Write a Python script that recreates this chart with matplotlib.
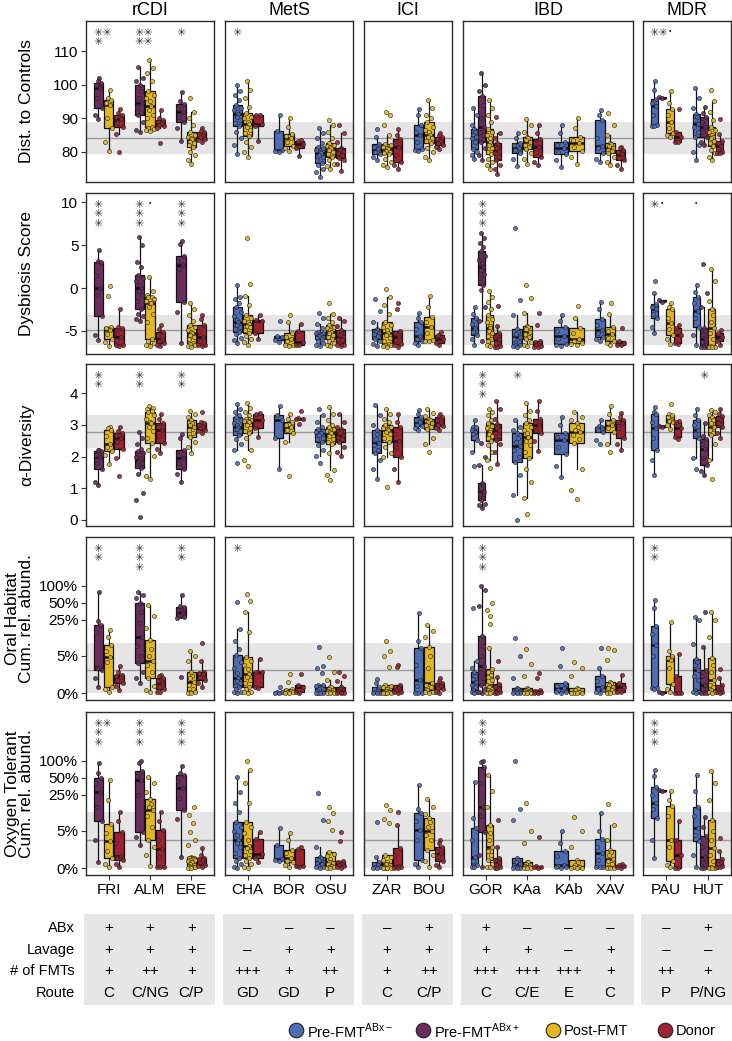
import numpy as np
import matplotlib.pyplot as plt
import matplotlib.transforms as mtransforms
from matplotlib.patches import Rectangle

plt.rcParams['font.family'] = ['Liberation Sans', 'DejaVu Sans']

W, H = 732, 1041

disease_groups = ["rCDI", "MetS", "ICI", "IBD", "MDR"]
disease_studies = [["FRI", "ALM", "ERE"], ["CHA", "BOR", "OSU"], ["ZAR", "BOU"],
                   ["GOR", "KAa", "KAb", "XAV"], ["PAU", "HUT"]]

group_labels = [r"Pre-FMT$^{\mathregular{ABx-}}$", r"Pre-FMT$^{\mathregular{ABx+}}$", "Post-FMT", "Donor"]
group_colors = ["#4F6DB5", "#6A2D5E", "#E3B81F", "#9E2232"]

# which sample groups each study has (0 pre ABx-, 1 pre ABx+, 2 post, 3 donor)
study_groups = {
    "FRI": [1, 2, 3], "ALM": [1, 2, 3], "ERE": [1, 2, 3],
    "CHA": [0, 2, 3], "BOR": [0, 2, 3], "OSU": [0, 2, 3],
    "ZAR": [0, 2, 3], "BOU": [0, 2, 3],
    "GOR": [0, 1, 2, 3], "KAa": [0, 2, 3], "KAb": [0, 2], "XAV": [0, 2, 3],
    "PAU": [0, 1, 2, 3], "HUT": [0, 1, 2, 3],
}

dist_controls = {
    "FRI": [[102, 101, 100.6, 99.8, 99, 96, 93.2, 91, 89.7],
            [98.5, 96, 95.5, 94.5, 93.9, 90, 87.1, 83, 80.2],
            [92.9, 91.5, 91.1, 90.5, 89.9, 88.5, 87.4, 85.4, 80]],
    "ALM": [[105.4, 102, 101, 99.8, 98, 96, 94.6, 93.5, 92, 91.1, 89, 86.5, 86],
            [107.4, 105, 103.5, 101, 98.1, 97, 96, 95, 93.6, 92.5, 91, 90, 87.5, 87, 86.8, 86.5, 86.1],
            [92.4, 90, 89.6, 89, 88.6, 88, 87.6, 87.2, 82.7]],
    "ERE": [[97.8, 95, 94.2, 93, 91.9, 90.5, 88.9, 87, 83.3],
            [96, 92, 90, 88, 85.9, 85, 84.5, 84, 83.7, 83, 82.5, 82, 81.5, 80, 79, 77.5, 76.5],
            [87, 86.3, 85.9, 85.3, 84.9, 84.3, 83.7, 83.4, 83]],
    "CHA": [[100, 98, 97, 95.5, 94.1, 93, 92.5, 92, 91.4, 90.5, 89.5, 88.5, 87.6, 86, 84, 82, 79.3],
            [101, 98.5, 96, 93.5, 91.6, 90.5, 90, 89, 88.4, 87.5, 86.5, 85.5, 84.7, 83, 81.5, 80, 78.5],
            [91, 90.9, 88.4, 87.6, 83.3]],
    "BOR": [[90.9, 86.1, 80.5, 80.2, 80],
            [90.2, 87.5, 85.4, 84.6, 84, 83, 81.7, 81, 80.2],
            [83.5, 83.2, 82.3, 81.2, 78.7]],
    "OSU": [[87, 85.5, 84, 82.5, 81.5, 81, 80.5, 80, 79.5, 79, 78.5, 77.5, 76.8, 76, 75, 74, 72.6],
            [89.4, 88, 86, 84, 82.5, 82, 81.7, 81.3, 81, 80.5, 80, 79.3, 78.5, 77.5, 76.5, 75.8, 75],
            [87.9, 85.5, 83, 81.2, 80.8, 80.4, 80, 79.6, 79, 78.3, 77.5, 76.3, 74.4]],
    "ZAR": [[86.9, 84.5, 82.3, 81.5, 80.8, 80, 79.3, 78.5, 77.7],
            [92, 91, 88, 85, 82.3, 82, 81.5, 81.2, 80.8, 80.3, 80, 79.6, 79.3, 78, 77, 76, 75.5],
            [86.9, 85, 83.7, 82.5, 81.5, 79, 77, 76, 75]],
    "BOU": [[92.9, 91, 88.1, 86, 85.1, 83, 80.8, 80.5, 80.2],
            [95.3, 93, 91, 90, 88.8, 87.5, 86.5, 85.8, 85, 84.5, 84, 83.3, 82.5, 81, 80, 78.5, 77.7],
            [85.6, 85, 84.5, 83.8, 83.2, 82.6, 82, 81.5, 80.7]],
    "GOR": [[93.2, 91, 88, 86.9, 86, 85, 84.5, 84, 83, 80.7, 80, 79, 78],
            [103.5, 100, 98, 96.5, 94, 90, 87.4, 86, 85, 83, 81, 79, 77.5],
            [95.3, 93, 91, 89, 86.9, 86, 85, 84, 83, 82, 81, 80, 79.3, 78, 77, 76, 74.8],
            [90.4, 85.6, 84, 82.7, 82, 81, 80.3, 79.5, 78.5, 77.7, 76, 75, 73.4]],
    "KAa": [[85.6, 84, 82.7, 82, 81.2, 80.5, 79.7, 78, 75.7],
            [89.9, 88, 86, 84.5, 84, 83.5, 83, 82, 81.5, 80.7, 79.5, 78, 76.5],
            [87.9, 85.5, 83.7, 82.5, 81.5, 80, 78.5, 77, 76]],
    "KAb": [[87.9, 85.5, 83, 82, 81, 80, 79.3, 77.5, 75.5],
            [90.2, 87, 84.5, 83.5, 82.5, 81.5, 80.3, 78.5, 76.3]],
    "XAV": [[92.4, 91, 89.4, 84, 81.7, 81, 79.5, 78, 77],
            [91.6, 88, 85, 82.7, 82.2, 81.6, 81, 80.6, 80.2, 79.7, 78.5, 77, 76],
            [81.5, 81, 80.5, 79.8, 79.3, 78.3, 77.5, 76, 75]],
    "PAU": [[101, 98.5, 95.8, 94.5, 93.6, 91, 87.9, 87.8, 87.6],
            [96.3, 96.0],
            [98.1, 94.5, 92.9, 91, 88.9, 87, 85.6, 85, 84.3],
            [92.9, 85.9, 84.5, 83, 82.8]],
    "HUT": [[99.1, 96, 93, 91.4, 90.5, 89.5, 88.4, 87.5, 86, 84.5, 82, 80, 77.7],
            [93.4, 91.5, 90.4, 89, 87.4, 86, 84.5, 83, 82],
            [98.5, 95, 92, 89.5, 87.4, 86.5, 85.8, 85, 84.5, 84, 83.3, 82.5, 81.7, 80.5, 79.5, 78.5, 77.5],
            [89.9, 85.4, 83.3, 82.5, 81.7, 80.8, 80, 79.7, 79.5]],
}

dysbiosis = {
    "FRI": [[4.5, 3.2, 3.1, 1.5, 0, -0.8, -3.3, -5.5, -6.1],
            [0.2, -0.9, -4.5, -4.7, -4.9, -5.4, -5.9, -6.3, -6.8],
            [-2.4, -4.5, -4.7, -5.2, -5.7, -6.1, -6.6, -6.7, -6.8]],
    "ALM": [[6, 5, 3, 2.5, 1.5, 1.2, 0.8, 0.4, 0, -0.4, -0.8, -1.5, -2.5, -3, -3.3, -3.6, -3.8],
            [1.3, -0.3, -0.8, -1.0, -1.1, -1.3, -1.5, -1.7, -1.8, -2.2, -3, -4, -5.9, -6.2, -6.4, -6.6, -6.8],
            [-4.3, -4.8, -5.1, -5.5, -5.9, -6.2, -6.4, -6.6, -6.8]],
    "ERE": [[5.5, 5.2, 3.7, 3.2, 2.7, 2.2, -1.6, -2.8, -6.4],
            [-1.8, -2.5, -3.2, -3.8, -4.3, -4.6, -4.9, -5.1, -5.3, -5.5, -5.7, -6, -6.4, -6.5, -6.7, -6.8, -6.9],
            [-3.2, -3.6, -4.3, -5, -5.7, -6.2, -6.6, -6.7, -6.8]],
    "CHA": [[0.3, -1, -1.3, -1.8, -2.2, -2.8, -3.3, -3.7, -4, -4.3, -4.5, -4.8, -5.1, -5.4, -5.8, -6.1, -6.4],
            [5.9, 0.5, -0.9, -2, -3.1, -3.5, -3.8, -4, -4.2, -4.4, -4.6, -4.9, -5.2, -5.6, -6, -6.3, -6.6],
            [-3.2, -3.7, -3.9, -5.2, -6]],
    "BOR": [[-3.9, -5.6, -5.7, -6.1, -6.3],
            [-3.2, -4, -5.3, -5.7, -6, -6.2, -6.6, -6.7, -6.8],
            [-4.2, -5, -6.3, -6.6, -6.7]],
    "OSU": [[-2.9, -3.5, -4.2, -4.7, -5.1, -5.2, -5.3, -5.4, -5.5, -5.6, -5.7, -5.8, -6, -6.2, -6.4, -6.6, -6.8],
            [-1.7, -3, -3.5, -4, -4.3, -4.5, -4.7, -4.9, -5.1, -5.3, -5.5, -5.7, -6, -6.2, -6.4, -6.6, -6.8],
            [-3.5, -3.9, -4.4, -4.9, -5.2, -5.5, -5.7, -5.9, -6.1, -6.4, -6.6, -6.7, -6.8]],
    "ZAR": [[-1.3, -2.7, -4, -4.8, -4.9, -5.1, -5.2, -5.4, -5.6, -5.9, -6.2, -6.5, -6.8],
            [-0.1, -1, -2, -3, -4, -4.3, -4.6, -4.9, -5.2, -5.5, -5.8, -6.2, -6.5, -6.6, -6.7, -6.8, -6.9],
            [-1.8, -2.5, -5, -5.3, -5.7, -6.1, -6.5, -6.7, -6.9]],
    "BOU": [[-2.9, -3.5, -4, -4.8, -5.6, -5.9, -6.2, -6.4, -6.6],
            [-0.9, -2.2, -3.4, -4, -4.5, -5.3, -6.1, -6.15, -6.2],
            [-5.1, -5.5, -5.9, -6.4, -6.6]],
    "GOR": [[-2.2, -3, -3.5, -4.2, -4.7, -5.1, -5.5, -6, -6.6],
            [6.4, 5.8, 5.3, 4.8, 4.3, 3.8, 3.3, 2.9, 2.5, 2.1, 1.7, 1.2, 0.3, -0.2, -2.2, -3.9, -6.2],
            [-0.4, -1, -1.6, -2.4, -3.1, -3.6, -4, -4.4, -4.7, -5, -5.3, -5.6, -5.9, -6.2, -6.4, -6.6, -6.8],
            [-2.1, -4.4, -5.3, -5.7, -6, -6.4, -6.8, -6.85, -6.9]],
    "KAa": [[7, -1.4, -3.1, -4.8, -5.1, -5.4, -5.7, -6, -6.3, -6.6, -6.7, -6.8, -6.9],
            [0.4, -1.2, -2.9, -4.4, -4.6, -4.8, -5.1, -5.4, -5.7, -6, -6.3, -6.6, -6.8],
            [-2.9, -4.3, -6.2, -6.3, -6.4, -6.6, -6.8, -6.85, -6.9]],
    "KAb": [[-3.2, -3.8, -4.5, -5, -5.6, -6, -6.5, -6.7, -6.8],
            [-2.1, -3.5, -4.7, -5.3, -5.9, -6.2, -6.4, -6.5, -6.6]],
    "XAV": [[-1.6, -2.5, -3.6, -4.3, -4.9, -5.3, -5.7, -6, -6.2],
            [-1.8, -3, -4.5, -5, -5.4, -5.8, -6.2, -6.4, -6.6],
            [-4.7, -6.2, -6.4, -6.6, -6.7]],
    "PAU": [[0.8, -0.6, -1.9, -2.2, -2.5, -3, -3.5, -4.5, -5.3],
            [-1.4, -1.6],
            [-1.7, -2.2, -2.5, -3.5, -4.1, -4.8, -5.5, -6, -6.5],
            [-4.3, -4.7, -5.5, -6.4, -6.5]],
    "HUT": [[0.3, -0.5, -1.1, -1.8, -2.7, -3.5, -4.5, -5.5, -6.6],
            [2.8, -0.6, -2.2, -4.7, -5.0, -5.4, -6, -6.3, -6.6, -6.8, -6.85, -6.9, -6.9],
            [2.2, 0.8, -1.5, -2.5, -3.2, -4, -4.7, -5.3, -6, -6.8, -6.85, -6.9, -6.9],
            [-4.9, -5.2, -5.7, -6.2, -6.6]],
}

alpha_div = {
    "FRI": [[2.22, 2.2, 2.18, 2.05, 1.97, 1.8, 1.6, 1.2, 1.1],
            [2.94, 2.9, 2.84, 2.65, 2.41, 2.3, 2.18, 2.05, 1.76],
            [2.92, 2.8, 2.75, 2.68, 2.59, 2.45, 2.25, 1.94, 1.39]],
    "ALM": [[2.78, 2.6, 2.4, 2.25, 2.18, 2.1, 2.0, 1.95, 1.9, 1.85, 1.8, 1.7, 1.65, 1.45, 0.85, 0.62, 0.1],
            [3.6, 3.55, 3.5, 3.45, 3.4, 3.3, 3.2, 3.1, 3.05, 2.95, 2.8, 2.6, 2.43, 2.2, 2.01, 1.37, 1.3],
            [3.36, 3.2, 3.05, 2.95, 2.84, 2.65, 2.43, 2.25, 2.1]],
    "ERE": [[2.71, 2.6, 2.2, 2.05, 1.94, 1.8, 1.62, 1.45, 1.2],
            [3.45, 3.35, 3.25, 3.15, 3.05, 3.0, 2.94, 2.85, 2.75, 2.62, 2.45, 2.3, 2.12],
            [3.42, 3.08, 3.05, 3.0, 2.94, 2.9, 2.84, 2.8, 2.75]],
    "CHA": [[3.66, 3.5, 3.4, 3.3, 3.24, 3.15, 3.05, 3.0, 2.94, 2.88, 2.8, 2.75, 2.68, 2.55, 2.4, 2.2, 1.78],
            [3.7, 3.55, 3.4, 3.3, 3.2, 3.17, 3.14, 3.12, 3.1, 3.0, 2.9, 2.8, 2.75, 2.6, 2.22, 1.9, 1.69],
            [3.38, 3.36, 3.17, 2.89, 2.62]],
    "BOR": [[3.6, 3.31, 3.15, 2.6, 1.59],
            [3.36, 3.2, 3.1, 3.0, 2.94, 2.85, 2.75, 2.47, 1.39],
            [3.45, 3.21, 3.2, 3.19, 3.02]],
    "OSU": [[3.49, 3.3, 3.1, 2.95, 2.86, 2.82, 2.79, 2.76, 2.73, 2.68, 2.6, 2.55, 2.47, 2.35, 2.2, 2.01, 1.78],
            [3.56, 3.35, 3.15, 3.0, 2.94, 2.88, 2.82, 2.78, 2.73, 2.65, 2.55, 2.45, 2.39, 2.1, 1.57, 1.41, 1.27],
            [3.34, 3.1, 2.95, 2.86, 2.8, 2.74, 2.68, 2.62, 2.55, 2.47, 2.3, 2.15, 2.01]],
    "ZAR": [[3.63, 3.3, 3.0, 2.84, 2.7, 2.55, 2.44, 2.35, 2.2, 2.12, 1.9, 1.6, 1.3],
            [3.49, 3.35, 3.2, 3.08, 2.99, 2.95, 2.9, 2.87, 2.84, 2.78, 2.7, 2.6, 2.47, 2.3, 2.1, 1.97, 1.04],
            [3.36, 3.1, 2.94, 2.7, 2.5, 2.3, 1.97, 1.6, 1.2]],
    "BOU": [[3.47, 3.35, 3.26, 3.15, 3.1, 3.0, 2.96, 2.9, 2.84],
            [3.52, 3.38, 3.28, 3.2, 3.15, 3.1, 3.07, 3.0, 2.93, 2.86, 2.6, 2.4, 2.15],
            [3.36, 3.28, 3.24, 3.15, 3.1, 3.0, 2.96, 2.9, 2.84]],
    "GOR": [[3.15, 2.95, 2.92, 2.85, 2.78, 2.7, 2.52, 2.15, 1.69],
            [2.43, 2.0, 1.72, 1.16, 1.1, 1.0, 0.88, 0.8, 0.7, 0.61, 0.5, 0.45, 0.37],
            [3.52, 3.4, 3.3, 3.15, 3.05, 2.98, 2.9, 2.84, 2.78, 2.72, 2.65, 2.58, 2.5, 2.35, 2.15, 1.9, 1.65],
            [3.77, 3.5, 3.2, 3.03, 2.97, 2.9, 2.84, 2.75, 2.65, 2.52, 2.4, 2.15, 1.76]],
    "KAa": [[3.17, 2.95, 2.85, 2.75, 2.6, 2.45, 2.33, 2.2, 2.0, 1.83, 1.4, 0.77, 0.0],
            [3.7, 3.45, 3.3, 3.15, 3.05, 2.95, 2.85, 2.75, 2.62, 2.5, 2.35, 2.15, 1.94, 1.6, 1.2, 0.7, 0.17],
            [3.77, 3.45, 3.2, 3.1, 2.99, 2.85, 2.73, 2.5, 2.18]],
    "KAb": [[3.24, 3.0, 2.75, 2.62, 2.52, 2.3, 2.07, 1.7, 1.35],
            [3.42, 3.25, 3.15, 3.07, 2.95, 2.85, 2.78, 2.68, 2.55, 2.43, 1.59, 0.95, 0.67]],
    "XAV": [[3.17, 2.96, 2.94, 2.91, 2.88, 2.84, 2.78, 2.52, 2.39],
            [3.6, 3.35, 3.17, 3.05, 2.99, 2.9, 2.78, 2.41, 2.15],
            [3.39, 3.25, 3.17, 3.1, 3.07, 2.9, 2.6, 2.4, 2.22]],
    "PAU": [[3.56, 3.4, 3.34, 3.1, 2.89, 2.6, 2.22, 1.9, 1.41],
            [2.98, 2.94],
            [3.66, 3.35, 3.31, 3.25, 3.17, 3.12, 3.1, 3.0, 2.86],
            [3.12, 3.1, 2.89, 2.62, 2.54]],
    "HUT": [[3.49, 3.3, 3.15, 3.0, 2.84, 2.7, 2.6, 1.94, 1.62],
            [3.05, 2.65, 2.57, 2.4, 2.25, 1.95, 1.72, 1.55, 1.41],
            [3.47, 3.4, 3.32, 3.26, 3.15, 3.05, 2.94, 2.85, 2.75, 2.68, 2.4, 1.9, 1.3],
            [3.49, 3.35, 3.28, 3.2, 3.15, 3.05, 2.94, 2.75, 2.6]],
}

# cumulative relative abundance, in percent
oral_habitat = {
    "FRI": [[79, 24, 20, 15, 2.7, 2.5, 2.2, 1.2, 0.4],
            [16.4, 12, 8.4, 6.5, 4.7, 3.5, 0.45, 0.3, 0.1],
            [2.8, 2.0, 1.6, 1.45, 1.3, 1.0, 0.72, 0.5, 0.2]],
    "ALM": [[79, 70, 60, 49, 35, 22, 12.3, 8, 5, 3.4, 2, 1.2, 0.72],
            [46, 30, 18, 10.6, 7, 5, 3.7, 3, 2, 1.2, 0.5, 0.2, 0.05],
            [1.6, 1.4, 1.2, 0.9, 0.72, 0.4, 0.25, 0.1, 0.05]],
    "ERE": [[70, 45, 43, 38, 35, 30, 28, 27, 1.3],
            [6.5, 5, 3.8, 1.9, 1.5, 1.2, 0.86, 0.6, 0.3, 0.1, 0.05, 0.02, 0],
            [9.4, 3.7, 2.0, 1.8, 1.7, 1.3, 1.0, 0.7, 0.45]],
    "CHA": [[51, 16.8, 10, 7, 5.2, 3.5, 2.5, 1.8, 1.2, 0.9, 0.7, 0.5, 0.4, 0.25, 0.1, 0.05, 0],
            [72, 55, 35, 15, 4.7, 3.7, 3, 2.3, 1.7, 1.3, 1.0, 0.7, 0.4, 0.25, 0.1, 0.05, 0],
            [4.2, 2.0, 1.9, 0.45, 0.35]],
    "BOR": [[0.45, 0.1, 0.05, 0.02, 0],
            [1.7, 0.8, 0.25, 0.2, 0.15, 0.1, 0.05, 0.02, 0],
            [1.7, 0.58, 0.4, 0.1, 0]],
    "OSU": [[7.5, 2.9, 2.5, 1.8, 0.58, 0.55, 0.5, 0.42, 0.35, 0.3, 0.25, 0.15, 0.05, 0.04, 0.03, 0.01, 0],
            [4.6, 1.9, 1.0, 0.45, 0.4, 0.3, 0.2, 0.15, 0.1, 0.05, 0.03, 0.01, 0],
            [1.9, 1.4, 0.9, 0.45, 0.4, 0.3, 0.2, 0.15, 0.1, 0.05, 0.03, 0.01, 0]],
    "ZAR": [[1.1, 0.7, 0.4, 0.3, 0.15, 0.1, 0.02, 0.01, 0],
            [10.3, 6.5, 5, 2.7, 0.58, 0.5, 0.4, 0.3, 0.15, 0.12, 0.1, 0.08, 0.05, 0.03, 0.02, 0.01, 0],
            [3.1, 2.7, 0.58, 0.45, 0.35, 0.2, 0.1, 0.05, 0]],
    "BOU": [[33, 10, 7.2, 3, 1.0, 0.5, 0, 0, 0],
            [20, 16, 12, 7.8, 5, 2.5, 0.75, 0.6, 0.4, 0.2, 0.1, 0.05, 0],
            [1.2, 0.9, 0.75, 0.6, 0.5, 0.35, 0.25, 0.1, 0]],
    "GOR": [[40, 3.7, 2.5, 1.9, 1.5, 1.1, 0.86, 0.6, 0.4, 0.2, 0.1, 0.05, 0],
            [98, 85, 45, 12.7, 8, 5, 2.8, 2, 1.2, 0.58, 0.3, 0.1, 0],
            [49, 38, 30, 21, 7.2, 2.3, 1.9, 1.6, 1.3, 1.0, 0.58, 0.5, 0.45, 0.4, 0.3, 0.2, 0.15, 0.1, 0.05, 0.02, 0],
            [3.7, 1.3, 0.65, 0.4, 0.25, 0.1, 0.05, 0.02, 0]],
    "KAa": [[11.5, 5, 1.2, 0.35, 0.3, 0.2, 0.15, 0.12, 0.08, 0.05, 0.03, 0.01, 0],
            [6.9, 3.2, 1.5, 0.35, 0.3, 0.2, 0.15, 0.12, 0.08, 0.05, 0.03, 0.01, 0],
            [1.8, 1.2, 0.2, 0.15, 0.1, 0.08, 0.05, 0.02, 0]],
    "KAb": [[7.2, 2.8, 0.72, 0.5, 0.35, 0.2, 0.1, 0.05, 0],
            [3.5, 2.5, 1.5, 0.35, 0.3, 0.2, 0.1, 0.08, 0.05, 0.02, 0.01, 0, 0]],
    "XAV": [[7.2, 2.5, 1.4, 0.9, 0.45, 0.3, 0.2, 0.1, 0],
            [7.2, 6.6, 4.0, 0.86, 0.7, 0.6, 0.45, 0.35, 0.2, 0.1, 0.05, 0.02, 0],
            [1.6, 0.72, 0.4, 0.1, 0.05]],
    "PAU": [[57, 40, 19.5, 14, 8.4, 5, 0.35, 0.32, 0.3],
            [0.05, 0.04],
            [23, 6.5, 5, 4.5, 4, 2.5, 0.65, 0.3, 0.05],
            [5.5, 1.5, 0.02, 0, 0]],
    "HUT": [[28.7, 25, 9, 4.2, 3.5, 3, 2.2, 1.5, 1.0, 0.2, 0.1, 0.05, 0],
            [34, 7.5, 2.2, 1.5, 0.58, 0.3, 0, 0, 0],
            [34, 25, 12, 4.4, 3, 2, 1.0, 0.6, 0.4, 0.2, 0.1, 0.05, 0],
            [2.3, 1.2, 0.58, 0.45, 0.35, 0.2, 0.1, 0.05, 0]],
}

oxygen_tolerant = {
    "FRI": [[92, 60, 49, 40, 28, 15, 8.2, 3, 0.4],
            [46, 20, 7, 4.5, 2.8, 1.5, 0.72, 0.3, 0.05],
            [12.3, 8, 4.8, 2.5, 0.9, 0.7, 0.6, 0.3, 0.1]],
    "ALM": [[100, 90, 67, 55, 47, 25, 4.8, 3.5, 2.2],
            [51, 40, 28, 21, 17, 15, 13, 10, 6, 3.1, 2, 1, 0.15],
            [12.3, 8, 5.2, 3, 1.7, 0.8, 0.1, 0.07, 0.05]],
    "ERE": [[81, 60, 56, 45, 33, 22, 13, 9, 0.8],
            [15, 10.6, 7.2, 4.8, 3.1, 2.2, 0.8, 0.78, 0.75, 0.72, 0.7, 0.65, 0.6, 0.55, 0.5, 0.45, 0.4,
             0.3, 0.2, 0.15, 0.1, 0.08, 0.05, 0.02, 0],
            [1.8, 1.0, 0.72, 0.65, 0.6, 0.4, 0.2, 0.15, 0.1]],
    "CHA": [[53, 28, 18, 12, 7.5, 6, 5, 4, 3.1, 2.5, 2, 1.2, 0.72, 0.5, 0.3, 0.1, 0],
            [100, 70, 40, 18, 7.8, 6, 4.5, 3, 2.1, 1.8, 1.4, 1.0, 0.7, 0.5, 0.3, 0.1, 0],
            [4.8, 3.2, 1.1, 0.72, 0.4]],
    "BOR": [[5.7, 2.2, 0.65, 0.6, 0.5],
            [4.4, 3.0, 1.6, 1.2, 0.72, 0.5, 0.4, 0.2, 0.1],
            [2.0, 1.7, 0.15, 0.15, 0.1]],
    "OSU": [[27, 8.5, 2.0, 0.8, 0.7, 0.55, 0.45, 0.35, 0.25, 0.15, 0.1, 0.05, 0],
            [15, 11.5, 8, 5.2, 1.3, 1.1, 0.9, 0.65, 0.45, 0.4, 0.35, 0.25, 0.15, 0.1, 0.05, 0.02, 0],
            [4.8, 2.8, 0.5, 0.4, 0.3, 0.2, 0.15, 0.05, 0]],
    "ZAR": [[7.8, 0.8, 0.45, 0.3, 0.2, 0.1, 0.05, 0.02, 0],
            [16.4, 13, 9, 7.2, 1.0, 0.8, 0.6, 0.45, 0.3, 0.25, 0.2, 0.1, 0.05, 0.04, 0.03, 0.02, 0],
            [12.3, 6.7, 1.8, 1.0, 0.15, 0.1, 0.05, 0.03, 0.02]],
    "BOU": [[37.7, 14, 11.5, 8, 5.2, 3, 0.6, 0.3, 0.05],
            [21, 15, 11, 9.1, 7.5, 6, 5, 4, 3, 1.6, 1.0, 0.5, 0.05],
            [3.1, 2.5, 2.0, 1.5, 1.2, 0.8, 0.5, 0.2, 0.05]],
    "GOR": [[43, 9.1, 5.7, 3, 0.86, 0.5, 0.2, 0.1, 0.05],
            [100, 95, 77, 40, 15, 10, 4.8, 1, 0.05],
            [56, 30, 15, 6.7, 4.5, 3, 1.9, 1.4, 1.0, 0.6, 0.3, 0.1, 0.05],
            [8.5, 2.0, 0.72, 0.6, 0.45, 0.2, 0.05, 0.02, 0]],
    "KAa": [[100, 13.5, 8.5, 0.72, 0.6, 0.45, 0.3, 0.2, 0.1, 0.05, 0.03, 0.01, 0],
            [18, 5, 2.5, 0.45, 0.4, 0.3, 0.2, 0.15, 0.1, 0.05, 0.03, 0.01, 0],
            [3.6, 0.15, 0.1, 0.05, 0]],
    "KAb": [[5, 2.5, 1.4, 0.9, 0.2, 0.15, 0.1, 0.05, 0],
            [9.5, 5, 2.0, 0.6, 0.4, 0.2, 0.1, 0.08, 0.06, 0.05, 0.03, 0.01, 0]],
    "XAV": [[11.8, 5, 3.2, 2.0, 1.2, 0.6, 0.1, 0.07, 0.05],
            [17, 6.7, 3, 1.6, 1.3, 1.0, 0.65, 0.5, 0.3, 0.05, 0.03, 0.01, 0],
            [0.3, 0.2, 0.15, 0.05, 0.04]],
    "PAU": [[70, 55, 34, 25, 17.5, 14, 9.1, 3, 0.72],
            [30.5, 29.5],
            [30, 20, 15.7, 10, 3.1, 2, 0.5, 0.2, 0.05],
            [8, 3.1, 1.0, 0, 0]],
    "HUT": [[56, 30, 15.3, 10, 5.7, 4, 2.8, 1, 0.05],
            [9.8, 6, 3.8, 2, 0.86, 0.4, 0.05, 0.02, 0],
            [65, 40, 20, 8.5, 5, 3, 1.8, 1.0, 0.5, 0.05, 0.03, 0.01, 0],
            [3.4, 1.5, 0.65, 0.5, 0.4, 0.3, 0.15, 0.1, 0.05]],
}

metric_labels = ["Dist. to Controls", "Dysbiosis Score", "α-Diversity",
                 "Oral Habitat\nCum. rel. abund.", "Oxygen Tolerant\nCum. rel. abund."]
metric_data = [dist_controls, dysbiosis, alpha_div, oral_habitat, oxygen_tolerant]
# healthy controls: median, lower and upper quartile
control_ref = [(84.2, 79.2, 88.9), (-4.9, -6.6, -3.1), (2.78, 2.27, 3.3), (2.2, 0.0, 9.4), (3.0, 0.0, 12.3)]
metric_ylim = [(71, 119), (-7.7, 11.1), (-0.2, 4.93), (-0.35, 682), (-0.35, 682)]
metric_ticks = [[80, 90, 100, 110], [-5, 0, 5, 10], [0, 1, 2, 3, 4], [0, 5, 25, 50, 100], [0, 5, 25, 50, 100]]
metric_is_pct = [False, False, False, True, True]

# significance marks: (metric row, study, box slot, text)
S = "\u2733"
sig_marks = [
    (0, "FRI", 0, S + S + "\n" + S), (0, "ALM", 0, S + S + "\n" + S + S), (0, "ERE", 0, S),
    (0, "CHA", 0, S), (0, "PAU", 0, S + S), (0, "PAU", 2, "•"),
    (1, "FRI", 0, "\n".join([S] * 3)), (1, "ALM", 0, "\n".join([S] * 3)), (1, "ALM", 1, "•"),
    (1, "ERE", 0, "\n".join([S] * 3)), (1, "GOR", 1, "\n".join([S] * 3)),
    (1, "PAU", 0, S), (1, "PAU", 1, "•"), (1, "HUT", 0, "•"),
    (2, "FRI", 0, S + "\n" + S), (2, "ALM", 0, S + "\n" + S), (2, "ERE", 0, S + "\n" + S),
    (2, "GOR", 1, "\n".join([S] * 3)), (2, "KAa", 0, S), (2, "HUT", 1, S),
    (3, "FRI", 0, S + "\n" + S), (3, "ALM", 0, "\n".join([S] * 3)), (3, "ERE", 0, S + "\n" + S),
    (3, "CHA", 0, S), (3, "GOR", 1, "\n".join([S] * 3)), (3, "PAU", 0, S + "\n" + S),
    (4, "FRI", 0, S + S + "\n" + S + "\n" + S), (4, "ALM", 0, "\n".join([S] * 3)),
    (4, "ERE", 0, "\n".join([S] * 3)), (4, "GOR", 1, "\n".join([S] * 3)), (4, "PAU", 0, "\n".join([S] * 3)),
]

all_studies = [s for grp in disease_studies for s in grp]
abx = ["+", "+", "+", "–", "–", "–", "–", "+", "+", "–", "–", "–", "–", "+"]
lavage = ["+", "+", "+", "–", "+", "+", "+", "+", "+", "+", "–", "+", "–", "–"]
n_fmts = ["+", "++", "+", "+++", "+", "++", "+", "++", "+++", "+++", "+++", "+", "++", "+"]
route = ["C", "C/NG", "C/P", "GD", "GD", "P", "C", "C/P", "C", "C/E", "E", "C", "P", "P/NG"]


def pct(v):
    return np.log10(np.asarray(v, dtype=float) + 1.5)


col_px = [(86, 214), (225, 353), (364, 452), (463, 633), (643, 731)]
row_px = [(21, 182), (193, 354), (364, 526), (537, 700), (712, 875)]
jitter = np.array([0.0, -1.0, 1.0, -0.5, 0.5, -0.75, 0.75, -0.25, 0.25])

fig = plt.figure(figsize=(W / 100, H / 100), dpi=100)
over = fig.add_axes([0, 0, 1, 1])
over.axis('off')
over.set_autoscale_on(False)
over.set_xlim(0, W)
over.set_ylim(H, 0)

axes = {}
for r in range(5):
    conv = pct if metric_is_pct[r] else (lambda v: np.asarray(v, dtype=float))
    for c, (dname, studies) in enumerate(zip(disease_groups, disease_studies)):
        x0, x1 = col_px[c]
        y0, y1 = row_px[r]
        ax = fig.add_axes([x0 / W, 1 - y1 / H, (x1 - x0) / W, (y1 - y0) / H])
        axes[(r, c)] = ax
        n = len(studies)
        ax.set_xlim(0.45, n + 0.55)
        ax.set_ylim(*conv(metric_ylim[r]))

        med, lo, hi = conv(control_ref[r])
        ax.axhspan(lo, hi, color="#E5E5E5", lw=0, zorder=0)
        ax.axhline(med, color="#9B9B9B", lw=1.0, zorder=0.5)

        for j, s in enumerate(studies):
            gs = study_groups[s]
            k = len(gs)
            w = 0.75 / k
            for i, g in enumerate(gs):
                xpos = j + 1 - 0.375 + w * (i + 0.5)
                vals = conv(metric_data[r][s][i])
                ax.boxplot(vals, positions=[xpos], widths=w * 0.92, whis=1.5,
                           patch_artist=True, showfliers=False, showcaps=False,
                           manage_ticks=False, zorder=2,
                           boxprops=dict(facecolor=group_colors[g], edgecolor="#111111", lw=0.9),
                           medianprops=dict(color="#111111", lw=1.8),
                           whiskerprops=dict(color="#111111", lw=0.9))
                order = np.argsort(vals)
                offs = np.zeros(len(vals))
                offs[order] = jitter[np.arange(len(vals)) % len(jitter)] * w * 0.34
                ax.scatter(xpos + offs, vals, s=9, c=group_colors[g], edgecolors="#222222",
                           linewidths=0.45, alpha=0.9, zorder=3)

        for sp in ax.spines.values():
            sp.set_color("#2b2b2b")
            sp.set_linewidth(1.0)

        if c == 0:
            ticks = metric_ticks[r]
            ax.set_yticks(conv(ticks))
            if metric_is_pct[r]:
                ax.set_yticklabels([f"{t}%" for t in ticks])
            else:
                ax.set_yticklabels([str(t) for t in ticks])
            ax.tick_params(axis='y', labelsize=11, length=3.5, width=0.8, color="#333333", pad=2)
            ax.set_ylabel(metric_labels[r], fontsize=12.5, linespacing=0.92)
            ax.yaxis.set_label_coords(-(86 - 34) / 128, 0.5)
        else:
            ax.set_yticks([])

        if r == 4:
            ax.set_xticks(range(1, n + 1))
            ax.set_xticklabels(studies)
            ax.tick_params(axis='x', labelsize=11, length=3.5, width=0.8, color="#333333", pad=2)
        else:
            ax.set_xticks([])

        if r == 0:
            ax.set_title(dname, fontsize=13, pad=4)

# significance marks
col_of = {s: c for c, grp in enumerate(disease_studies) for s in grp}
for r, s, slot, txt in sig_marks:
    c = col_of[s]
    ax = axes[(r, c)]
    j = disease_studies[c].index(s)
    k = len(study_groups[s])
    w = 0.75 / k
    xpos = j + 1 - 0.375 + w * (slot + 0.5)
    tr = mtransforms.blended_transform_factory(ax.transData, ax.transAxes)
    if txt == "•":
        ax.text(xpos, 0.955, txt, transform=tr, ha='center', va='top', fontsize=5, color="#111111")
    else:
        ax.text(xpos - 0.12, 0.958, txt, transform=tr, ha='left', va='top', fontsize=8,
                family='DejaVu Sans', color="#333333", linespacing=0.95)

# treatment table
table_rows = [("ABx", abx), ("Lavage", lavage), ("# of FMTs", n_fmts), ("Route", route)]
row_y = [928, 950, 971, 993]
for c, studies in enumerate(disease_studies):
    x0, x1 = col_px[c]
    over.add_patch(Rectangle((x0 - 2, 914), x1 - x0 + 3, 91, facecolor="#E6E6E6", lw=0))
    ax = axes[(4, c)]
    tr = mtransforms.blended_transform_factory(ax.transData, over.transData)
    for j, s in enumerate(studies):
        idx = all_studies.index(s)
        for (lab, vals), yy in zip(table_rows, row_y):
            over.text(j + 1, yy, vals[idx], transform=tr, ha='center', va='center', fontsize=11)
for (lab, vals), yy in zip(table_rows, row_y):
    over.text(75, yy, lab, ha='right', va='center', fontsize=10.5)

# legend
leg_x = [296, 423, 553, 665]
for g in range(4):
    over.plot([leg_x[g]], [1030], 'o', ms=10.5, mfc=group_colors[g], mec="#222222", mew=0.8)
    over.text(leg_x[g] + 11, 1031, group_labels[g], ha='left', va='center', fontsize=10.5)

fig.savefig("out.png", dpi=100)
